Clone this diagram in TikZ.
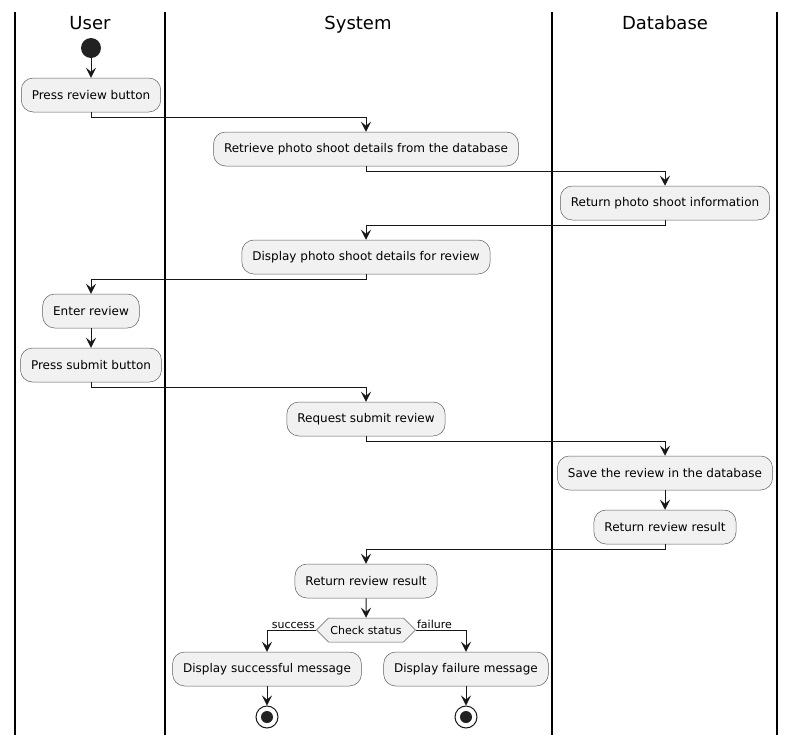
\documentclass[tikz,border=0pt]{standalone}
\usepackage{fontspec}
\setmainfont{DejaVu Sans}
\usetikzlibrary{arrows.meta,shapes.symbols}
\definecolor{nodefill}{HTML}{F1F1F1}
\definecolor{ink}{HTML}{181818}
\definecolor{dot}{HTML}{222222}
\tikzset{
  act/.style={draw=ink!70, line width=0.5pt, fill=nodefill, rounded corners=12pt,
    minimum height=34pt, inner xsep=10.5pt, font=\fontsize{12}{14}\selectfont},
  lane/.style={line width=1.6pt, black},
  lanetitle/.style={font=\fontsize{18}{20}\selectfont, inner sep=0pt, anchor=base},
  arr/.style={draw=ink, line width=1pt, -{Stealth[length=10pt,width=10pt,inset=4pt]}},
  branch/.style={font=\fontsize{11}{12}\selectfont, inner sep=1pt},
  choice/.style={draw=ink!70, line width=0.5pt, fill=nodefill, signal, signal to=west and east,
    signal pointer angle=90, minimum height=24pt, minimum width=96pt, inner xsep=2pt, inner ysep=0pt,
    font=\fontsize{11}{12}\selectfont},
  startdot/.style={circle, fill=dot, minimum size=20pt, inner sep=0pt},
  endring/.style={circle, draw=ink, line width=1pt, fill=white, minimum size=22pt, inner sep=0pt}
}
\begin{document}
\begin{tikzpicture}[x=1pt,y=-1pt]
\useasboundingbox (0,0) rectangle (796,745);

% swimlane borders and titles
\foreach \lx in {15,165,552,777} \draw[lane] (\lx,12) -- (\lx,735);
\node[lanetitle] (tuser) at (90,29) {User};
\node[lanetitle] (tsys) at (358,29) {System};
\node[lanetitle] (tdb) at (665,29) {Database};

% activities
\node[startdot] (start) at (91,48) {};
\node[act] (press) at (91,95) {Press review button};
\node[act] (retrieve) at (366,149) {Retrieve photo shoot details from the database};
\node[act] (retinfo) at (665,203) {Return photo shoot information};
\node[act] (display) at (366,257) {Display photo shoot details for review};
\node[act] (enter) at (91,311) {Enter review};
\node[act] (submit) at (91,365) {Press submit button};
\node[act] (request) at (366,419) {Request submit review};
\node[act] (save) at (665,473) {Save the review in the database};
\node[act] (dbres) at (665,527) {Return review result};
\node[act] (sysres) at (366,581) {Return review result};
\node[choice] (check) at (366,630) {Check status};
\node[act] (okmsg) at (267,669) {Display successful message};
\node[act] (failmsg) at (466,669) {Display failure message};
\node[endring] (end1) at (267,717) {};
\node[endring] (end2) at (466,717) {};
\fill[dot] (end1.center) circle (6pt);
\fill[dot] (end2.center) circle (6pt);

% flow
\draw[arr] (start) -- (press);
\draw[arr] (press.south) -- ++(0,5) -| (retrieve.north);
\draw[arr] (retrieve.south) -- ++(0,5) -| (retinfo.north);
\draw[arr] (retinfo.south) -- ++(0,5) -| (display.north);
\draw[arr] (display.south) -- ++(0,5) -| (enter.north);
\draw[arr] (enter) -- (submit);
\draw[arr] (submit.south) -- ++(0,5) -| (request.north);
\draw[arr] (request.south) -- ++(0,5) -| (save.north);
\draw[arr] (save) -- (dbres);
\draw[arr] (dbres.south) -- ++(0,5) -| (sysres.north);
\draw[arr] (sysres) -- (check);
\draw[arr] (check.west) -| (okmsg.north);
\draw[arr] (check.east) -| (failmsg.north);
\node[branch, anchor=south east] (lsucc) at (check.west) {success};
\node[branch, anchor=south west] (lfail) at (check.east) {failure};
\draw[arr] (okmsg) -- (end1);
\draw[arr] (failmsg) -- (end2);
\end{tikzpicture}
\end{document}
